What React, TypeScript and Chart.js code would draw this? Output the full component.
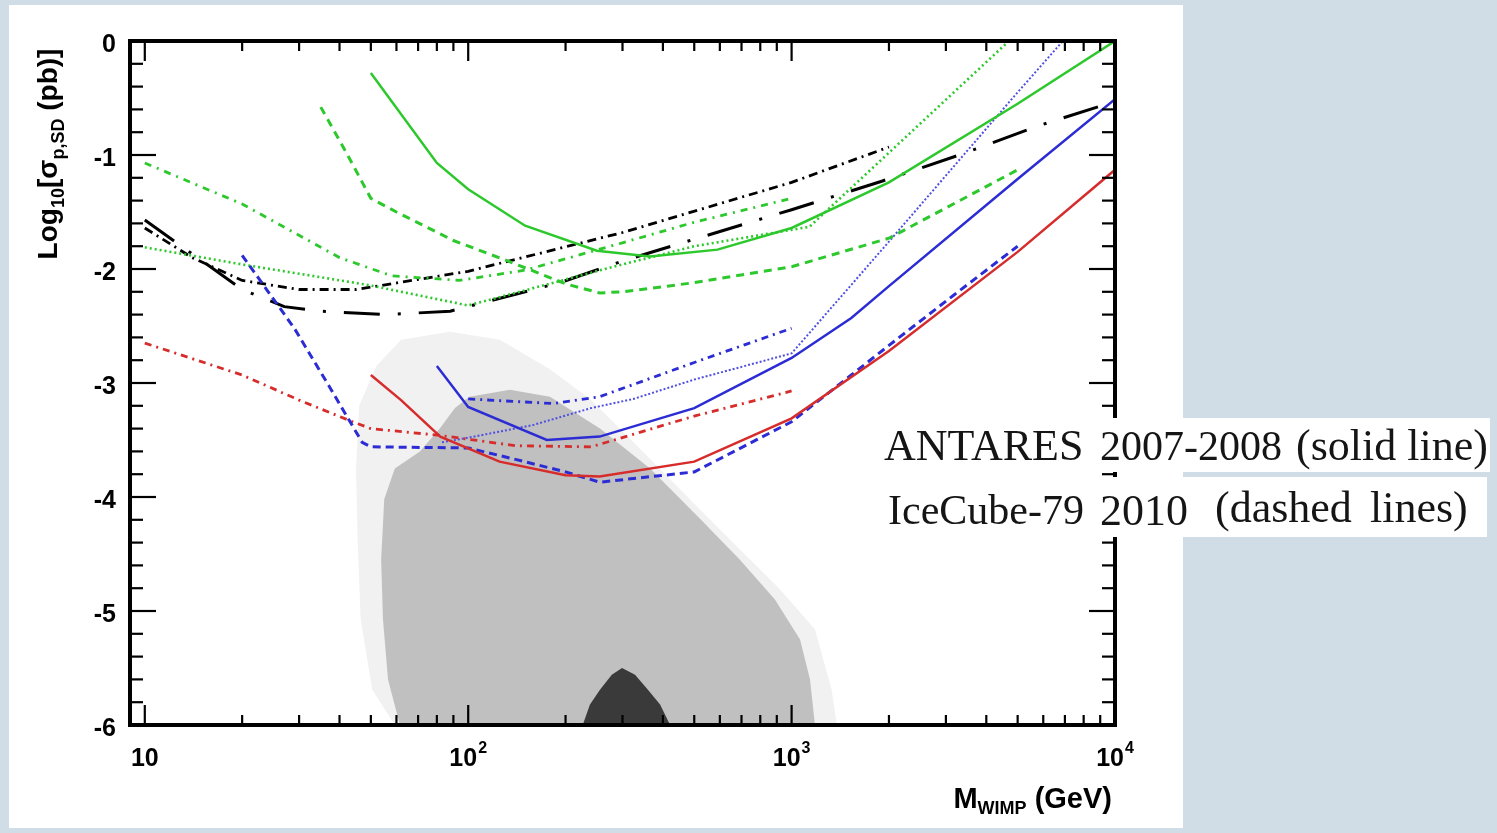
import React, { useEffect, useRef } from 'react';
import { Chart, registerables } from 'chart.js';

Chart.register(...registerables);

// ---------- data: WIMP mass (GeV) and log10(sigma_p,SD / pb) ----------
// ANTARES 2007-2008 (solid)
const greenSolidMass = [50, 80, 100, 150, 250, 365, 590, 1000, 2000, 5000, 10000];
const greenSolidLog = [-0.28, -1.07, -1.3, -1.62, -1.84, -1.89, -1.83, -1.64, -1.24, -0.55, 0.0];
const blueSolidMass = [80, 100, 175, 255, 500, 1000, 1530, 2000, 5000, 10000];
const blueSolidLog = [-2.85, -3.21, -3.5, -3.47, -3.22, -2.78, -2.43, -2.15, -1.21, -0.51];
const redSolidMass = [50, 62, 82, 125, 200, 255, 500, 1000, 2000, 5000, 10000];
const redSolidLog = [-2.93, -3.15, -3.47, -3.69, -3.81, -3.82, -3.69, -3.31, -2.72, -1.85, -1.13];

// IceCube-79 and others (dashed / dotted / dash-dot)
const greenDashedMass = [35, 42, 50, 60, 90, 130, 200, 255, 300, 500, 1000, 2000, 5000];
const greenDashedLog = [-0.58, -0.98, -1.38, -1.5, -1.75, -1.92, -2.13, -2.21, -2.2, -2.12, -1.98, -1.73, -1.13];
const blueDashedMass = [20, 29, 37, 47, 50, 100, 140, 200, 255, 500, 1000, 1530, 2000, 3170, 5000];
const blueDashedLog = [-1.88, -2.52, -3.02, -3.52, -3.56, -3.57, -3.67, -3.78, -3.87, -3.78, -3.34, -2.93, -2.67, -2.23, -1.8];
const redDashDotMass = [10, 20, 30, 43, 50, 82, 140, 240, 500, 1000];
const redDashDotLog = [-2.65, -2.93, -3.15, -3.33, -3.4, -3.46, -3.55, -3.56, -3.29, -3.07];
const blueDashDotMass = [100, 183, 255, 500, 1000];
const blueDashDotLog = [-3.14, -3.18, -3.12, -2.82, -2.52];
const blueDottedMass = [83, 100, 158, 240, 324, 500, 1000, 2000, 5000, 6900];
const blueDottedLog = [-3.52, -3.48, -3.37, -3.22, -3.14, -2.97, -2.74, -1.76, -0.45, 0];
const greenDottedMass = [10, 20, 49, 100, 273, 500, 1135, 2000, 4700];
const greenDottedLog = [-1.81, -1.96, -2.14, -2.32, -1.99, -1.8, -1.63, -0.98, 0];
const greenDashDotMass = [10, 20, 40, 58, 94, 150, 300, 500, 1000];
const greenDashDotLog = [-1.07, -1.43, -1.9, -2.06, -2.1, -2.01, -1.77, -1.59, -1.38];
const blackDashDotMass = [10, 14, 20, 30, 45, 82, 100, 300, 1000, 2000];
const blackDashDotLog = [-1.64, -1.9, -2.1, -2.18, -2.18, -2.06, -2.02, -1.68, -1.24, -0.93];
const blackLongDashMass = [10, 20, 27, 35, 56, 88, 192, 300, 1000, 1900, 3300, 5850, 10000];
const blackLongDashLog = [-1.57, -2.18, -2.33, -2.37, -2.4, -2.37, -2.12, -1.93, -1.48, -1.23, -1.0, -0.74, -0.53];

// model scan regions (outlines)
const sparseScanMass = [59.3, 50.5, 46.5, 45.5, 45, 46, 52, 62, 87.8, 125.3, 179, 238, 294.5, 521, 920, 1181, 1330, 1380, 59.3];
const sparseScanLog = [-6.0, -5.69, -5.07, -4.37, -3.75, -3.2, -2.85, -2.62, -2.55, -2.62, -2.88, -3.14, -3.4, -4.11, -4.81, -5.16, -5.69, -6.0, -6.0];
const denseScanMass = [61.5, 56.5, 54.5, 53.8, 55, 59.3, 70.9, 81.7, 91, 101, 134.6, 179, 255.5, 365, 521, 692, 888, 1062, 1140, 1181, 61.5];
const denseScanLog = [-6.0, -5.6, -5.07, -4.55, -4.02, -3.75, -3.6, -3.4, -3.22, -3.12, -3.06, -3.12, -3.4, -3.75, -4.19, -4.55, -4.9, -5.25, -5.6, -6.0, -6.0];
const darkScanMass = [226, 238, 255.5, 278, 299, 328, 359.5, 392, 421, 226];
const darkScanLog = [-6.0, -5.82, -5.69, -5.56, -5.5, -5.56, -5.69, -5.82, -6.0, -6.0];

// axes
const xMin = 9;
const xMax = 10000;
const yMin = -6;
const yMax = 0;
const xTickValues = [10, 100, 1000, 10000];
const xTickBase = ['10', '10', '10', '10'];
const xTickSup = ['', '2', '3', '4'];
const yTickValues = [0, -1, -2, -3, -4, -5, -6];
const yTickLabels = ['0', '-1', '-2', '-3', '-4', '-5', '-6'];
const legendLine1 = ['ANTARES', '2007-2008', '(solid line)'];
const legendLine2 = ['IceCube-79', '2010', '(dashed', 'lines)'];

const GREEN = 'rgb(44,200,44)';
const BLUE = 'rgb(44,44,212)';
const RED = 'rgb(214,44,44)';
const BLACK = 'rgb(0,0,0)';
const SANS = '"Liberation Sans", Arial, sans-serif';
const SERIF = '"Liberation Serif", "Times New Roman", serif';

const pts = (m: number[], v: number[]) => m.map((x, i) => ({ x, y: v[i] }));

const lineSet = (label: string, m: number[], v: number[], color: string, dash: number[], width: number) => ({
  label,
  data: pts(m, v),
  borderColor: color,
  backgroundColor: color,
  borderDash: dash,
  borderWidth: width,
  pointRadius: 0,
  fill: false,
  tension: 0,
  order: 1,
});

const areaSet = (label: string, m: number[], v: number[], color: string, order: number) => ({
  label,
  data: pts(m, v),
  borderColor: 'rgba(0,0,0,0)',
  backgroundColor: color,
  borderWidth: 0,
  pointRadius: 0,
  fill: 'shape',
  tension: 0,
  order,
});

const framePlugin = {
  id: 'rootFrame',
  afterDraw(chart: any) {
    const { ctx, chartArea: a, scales } = chart;
    const xs = scales.x;
    const ys = scales.y;
    ctx.save();
    ctx.strokeStyle = '#000';
    ctx.lineCap = 'butt';
    const seg = (x1: number, y1: number, x2: number, y2: number) => {
      ctx.beginPath();
      ctx.moveTo(x1, y1);
      ctx.lineTo(x2, y2);
      ctx.stroke();
    };
    // y ticks (inside, left & right)
    ctx.lineWidth = 2.2;
    for (let k = 0; k <= 30; k++) {
      const v = yMin + k * 0.2;
      const py = ys.getPixelForValue(v);
      const major = k % 5 === 0;
      const len = major ? 26 : 13;
      seg(a.left, py, a.left + len, py);
      seg(a.right, py, a.right - len, py);
    }
    // x ticks (inside, bottom & top)
    for (let d = 0; d <= 4; d++) {
      for (let k = 1; k <= 9; k++) {
        const v = k * Math.pow(10, d);
        if (v < xMin || v > xMax) continue;
        const px = xs.getPixelForValue(v);
        const len = k === 1 ? 20 : 10;
        seg(px, a.bottom, px, a.bottom - len);
        seg(px, a.top, px, a.top + len);
      }
    }
    // frame
    ctx.lineWidth = 4;
    ctx.strokeRect(a.left, a.top, a.right - a.left, a.bottom - a.top);

    // y tick labels
    ctx.fillStyle = '#000';
    ctx.font = `bold 25px ${SANS}`;
    ctx.textAlign = 'right';
    ctx.textBaseline = 'middle';
    yTickValues.forEach((v, i) => {
      ctx.fillText(yTickLabels[i], a.left - 14, ys.getPixelForValue(v) + 4);
    });

    // x tick labels with superscripts
    ctx.textAlign = 'left';
    ctx.textBaseline = 'alphabetic';
    xTickValues.forEach((v, i) => {
      const px = xs.getPixelForValue(v);
      ctx.font = `bold 25px ${SANS}`;
      const wb = ctx.measureText(xTickBase[i]).width;
      ctx.font = `bold 16px ${SANS}`;
      const ws = xTickSup[i] ? ctx.measureText(xTickSup[i]).width + 1 : 0;
      const x0 = px - (wb + ws) / 2;
      const base = a.bottom + 41;
      ctx.font = `bold 25px ${SANS}`;
      ctx.fillText(xTickBase[i], x0, base);
      if (xTickSup[i]) {
        ctx.font = `bold 16px ${SANS}`;
        ctx.fillText(xTickSup[i], x0 + wb + 1, base - 13);
      }
    });

    // x title: M_WIMP (GeV), right aligned
    {
      const big = `bold 29px ${SANS}`;
      const small = `bold 18px ${SANS}`;
      const parts = [
        { t: 'M', f: big, dy: 0 },
        { t: 'WIMP', f: small, dy: 6 },
        { t: ' (GeV)', f: big, dy: 0 },
      ];
      let total = 0;
      const widths = parts.map((p) => {
        ctx.font = p.f;
        const w = ctx.measureText(p.t).width;
        total += w;
        return w;
      });
      let x = a.right - 3 - total;
      const base = a.bottom + 83;
      parts.forEach((p, i) => {
        ctx.font = p.f;
        ctx.fillText(p.t, x, base + p.dy);
        x += widths[i];
      });
    }

    // y title: Log10[sigma_p,SD (pb)] rotated
    {
      const big = `bold 28px ${SANS}`;
      const small = `bold 18px ${SANS}`;
      const parts = [
        { t: 'Log', f: big, dy: 0 },
        { t: '10', f: small, dy: 7 },
        { t: '[', f: big, dy: 0 },
        { t: 'σ', f: big, dy: 0 },
        { t: 'p,SD', f: small, dy: 7 },
        { t: ' (pb)]', f: big, dy: 0 },
      ];
      let total = 0;
      const widths = parts.map((p) => {
        ctx.font = p.f;
        const w = ctx.measureText(p.t).width;
        total += w;
        return w;
      });
      ctx.translate(57, 154);
      ctx.rotate(-Math.PI / 2);
      let x = -total / 2;
      parts.forEach((p, i) => {
        ctx.font = p.f;
        ctx.fillText(p.t, x, p.dy);
        x += widths[i];
      });
    }
    ctx.restore();
  },
};

const word = (text: string, left: number, top: number, size: number) => (
  <div
    key={text + left}
    style={{
      position: 'absolute',
      left,
      top,
      font: `${size}px ${SERIF}`,
      lineHeight: `${size}px`,
      whiteSpace: 'pre',
      color: '#151515',
    }}
  >
    {text}
  </div>
);

export default function App() {
  const canvasRef = useRef<HTMLCanvasElement | null>(null);

  useEffect(() => {
    const canvas = canvasRef.current;
    if (!canvas) return;
    const chart = new Chart(canvas, {
      type: 'line',
      data: {
        datasets: [
          lineSet('ANTARES green', greenSolidMass, greenSolidLog, GREEN, [], 2.5),
          lineSet('ANTARES blue', blueSolidMass, blueSolidLog, BLUE, [], 2.5),
          lineSet('ANTARES red', redSolidMass, redSolidLog, RED, [], 2.5),
          lineSet('green dashed', greenDashedMass, greenDashedLog, GREEN, [8, 6], 3),
          lineSet('blue dashed', blueDashedMass, blueDashedLog, BLUE, [8, 5], 3),
          lineSet('red dash-dot', redDashDotMass, redDashDotLog, RED, [7, 5, 2, 5], 2.8),
          lineSet('blue dash-dot', blueDashDotMass, blueDashDotLog, BLUE, [7, 5, 2, 5], 2.8),
          lineSet('blue dotted', blueDottedMass, blueDottedLog, 'rgb(80,80,225)', [2, 2], 2),
          lineSet('green dotted', greenDottedMass, greenDottedLog, GREEN, [2, 3], 2.6),
          lineSet('green dash-dot', greenDashDotMass, greenDashDotLog, GREEN, [7, 6, 2, 6], 2.8),
          lineSet('black dash-dot', blackDashDotMass, blackDashDotLog, BLACK, [9, 5, 2, 5], 2.8),
          lineSet('black long dash-dot', blackLongDashMass, blackLongDashLog, BLACK, [36, 18, 3, 18], 3),
          areaSet('scan sparse', sparseScanMass, sparseScanLog, 'rgb(241,241,241)', 30),
          areaSet('scan dense', denseScanMass, denseScanLog, 'rgb(192,192,192)', 20),
          areaSet('scan dark', darkScanMass, darkScanLog, 'rgb(58,58,58)', 10),
        ] as any,
      },
      options: {
        responsive: false,
        animation: false,
        devicePixelRatio: 1,
        layout: { padding: { left: 130, top: 41, right: 1497 - 1115, bottom: 833 - 725 } },
        plugins: { legend: { display: false }, tooltip: { enabled: false } },
        scales: {
          x: { type: 'logarithmic', min: xMin, max: xMax, display: false },
          y: { type: 'linear', min: yMin, max: yMax, display: false },
        },
      } as any,
      plugins: [framePlugin],
    });
    return () => chart.destroy();
  }, []);

  return (
    <div
      style={{
        position: 'fixed',
        left: 0,
        top: 0,
        width: 1497,
        height: 833,
        overflow: 'hidden',
        background: 'rgb(208,220,230)',
      }}
    >
      <div style={{ position: 'absolute', left: 9, top: 5, width: 1174, height: 823, background: '#fff' }} />
      <canvas ref={canvasRef} width={1497} height={833} style={{ position: 'absolute', left: 0, top: 0 }} />
      <div style={{ position: 'absolute', left: 880, top: 418, width: 610, height: 54, background: '#fff' }} />
      <div style={{ position: 'absolute', left: 880, top: 477, width: 607, height: 60, background: '#fff' }} />
      {word(legendLine1[0], 884, 424, 44)}
      {word(legendLine1[1], 1100, 425, 42)}
      {word(legendLine1[2], 1296, 424, 44)}
      {word(legendLine2[0], 888, 489, 42)}
      {word(legendLine2[1], 1100, 489, 44)}
      {word(legendLine2[2], 1215, 486, 44)}
      {word(legendLine2[3], 1370, 486, 44)}
    </div>
  );
}
